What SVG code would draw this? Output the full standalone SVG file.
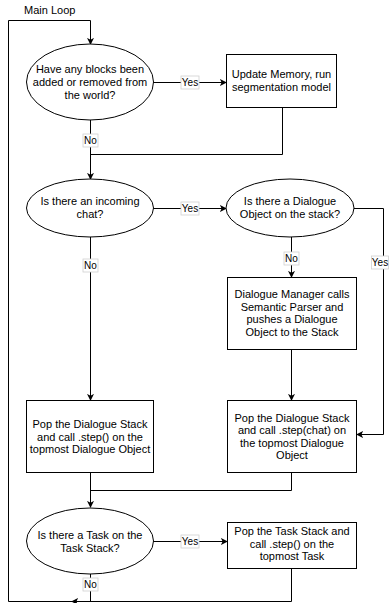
<svg xmlns="http://www.w3.org/2000/svg" width="389" height="603" viewBox="0 0 389 603">
<defs>
<marker id="arr" viewBox="0 0 8 8" refX="7" refY="4" markerWidth="7" markerHeight="7" markerUnits="userSpaceOnUse" orient="auto">
<path d="M0,0 L8,4 L0,8 L2,4 Z" fill="#000"/>
</marker>
<style>
.shape{fill:#fff;stroke:#000;stroke-width:1}
.t{font-family:"Liberation Sans",Arial,sans-serif;font-size:11px;fill:#000;text-anchor:middle}
.edge{fill:none;stroke:#000;stroke-width:1}
.lbl{fill:#fff;stroke:#d0d0d0;stroke-width:0.8}
.lt{font-family:"Liberation Sans",Arial,sans-serif;font-size:10px;fill:#000;text-anchor:middle}
</style>
</defs>
<rect width="389" height="603" fill="#fff"/>
<text x="24" y="14" font-family="Liberation Sans, Arial, sans-serif" font-size="11" fill="#000">Main Loop</text>
<g id="connectors">
<path class="edge" d="M90.5,574 V601.5 H8.5 V20.5 H90.5 V44" marker-end="url(#arr)"/>
<path class="edge" d="M291.5,569 V601.5 H72" marker-end="url(#arr)"/>
<path class="edge" d="M153,82.5 H226" marker-end="url(#arr)"/>
<path class="edge" d="M90.5,120 V179" marker-end="url(#arr)"/>
<path class="edge" d="M282.5,108 V154.5 H90.5"/>
<path class="edge" d="M153,208.5 H226" marker-end="url(#arr)"/>
<path class="edge" d="M90.5,237 V400" marker-end="url(#arr)"/>
<path class="edge" d="M291.5,237 V277" marker-end="url(#arr)"/>
<path class="edge" d="M354,208.5 H383.5 V434.5 H357" marker-end="url(#arr)"/>
<path class="edge" d="M291.5,350 V400" marker-end="url(#arr)"/>
<path class="edge" d="M90.5,473 V507" marker-end="url(#arr)"/>
<path class="edge" d="M291.5,473 V490.5 H90.5"/>
<path class="edge" d="M153,541.5 H227" marker-end="url(#arr)"/>
<g id="labels">
<rect class="lbl" x="181" y="76" width="18" height="13"/><text class="lt" x="190" y="86">Yes</text>
<rect class="lbl" x="83" y="134" width="15" height="13"/><text class="lt" x="90.5" y="144">No</text>
<rect class="lbl" x="181" y="202" width="18" height="13"/><text class="lt" x="190" y="212">Yes</text>
<rect class="lbl" x="83" y="259" width="15" height="13"/><text class="lt" x="90.5" y="269">No</text>
<rect class="lbl" x="284" y="252" width="15" height="13"/><text class="lt" x="291.5" y="262">No</text>
<rect class="lbl" x="371.5" y="256" width="17" height="13"/><text class="lt" x="380" y="266">Yes</text>
<rect class="lbl" x="181" y="535" width="18" height="13"/><text class="lt" x="190" y="545">Yes</text>
<rect class="lbl" x="83" y="578" width="15" height="13"/><text class="lt" x="90.5" y="588">No</text>
</g>
</g>
<g id="q-blocks">
<ellipse class="shape" cx="90" cy="82" rx="63.5" ry="38"/>
<text class="t" x="90" y="73">Have any blocks been</text>
<text class="t" x="90" y="86">added or removed from</text>
<text class="t" x="90" y="99">the world?</text>
</g>
<g id="update-memory">
<rect class="shape" x="226.5" y="54.5" width="110" height="53"/>
<text class="t" x="281.5" y="78">Update Memory, run</text>
<text class="t" x="281.5" y="91">segmentation model</text>
</g>
<g id="q-chat">
<ellipse class="shape" cx="90" cy="208" rx="63.5" ry="29"/>
<text class="t" x="90" y="205">Is there an incoming</text>
<text class="t" x="90" y="218">chat?</text>
</g>
<g id="q-dialogue">
<ellipse class="shape" cx="290" cy="208" rx="64" ry="29"/>
<text class="t" x="290" y="205">Is there a Dialogue</text>
<text class="t" x="290" y="218">Object on the stack?</text>
</g>
<g id="dialogue-manager">
<rect class="shape" x="227.5" y="277.5" width="129" height="72"/>
<text class="t" x="292" y="298">Dialogue Manager calls</text>
<text class="t" x="292" y="310.5">Semantic Parser and</text>
<text class="t" x="292" y="323">pushes a Dialogue</text>
<text class="t" x="292" y="335.5">Object to the Stack</text>
</g>
<g id="pop-dialogue">
<rect class="shape" x="26.5" y="400.5" width="127" height="72"/>
<text class="t" x="90" y="428">Pop the Dialogue Stack</text>
<text class="t" x="90" y="440.5">and call .step() on the</text>
<text class="t" x="90" y="453">topmost Dialogue Object</text>
</g>
<g id="pop-dialogue-chat">
<rect class="shape" x="227.5" y="400.5" width="129" height="72"/>
<text class="t" x="292" y="421.5">Pop the Dialogue Stack</text>
<text class="t" x="292" y="434">and call .step(chat) on</text>
<text class="t" x="292" y="446.5">the topmost Dialogue</text>
<text class="t" x="292" y="459">Object</text>
</g>
<g id="q-task">
<ellipse class="shape" cx="90" cy="541" rx="63.5" ry="33"/>
<text class="t" x="90" y="539">Is there a Task on the</text>
<text class="t" x="90" y="552">Task Stack?</text>
</g>
<g id="pop-task">
<rect class="shape" x="227.5" y="522.5" width="129" height="46"/>
<text class="t" x="292" y="535">Pop the Task Stack and</text>
<text class="t" x="292" y="547.5">call .step() on the</text>
<text class="t" x="292" y="560">topmost Task</text>
</g>
</svg>
